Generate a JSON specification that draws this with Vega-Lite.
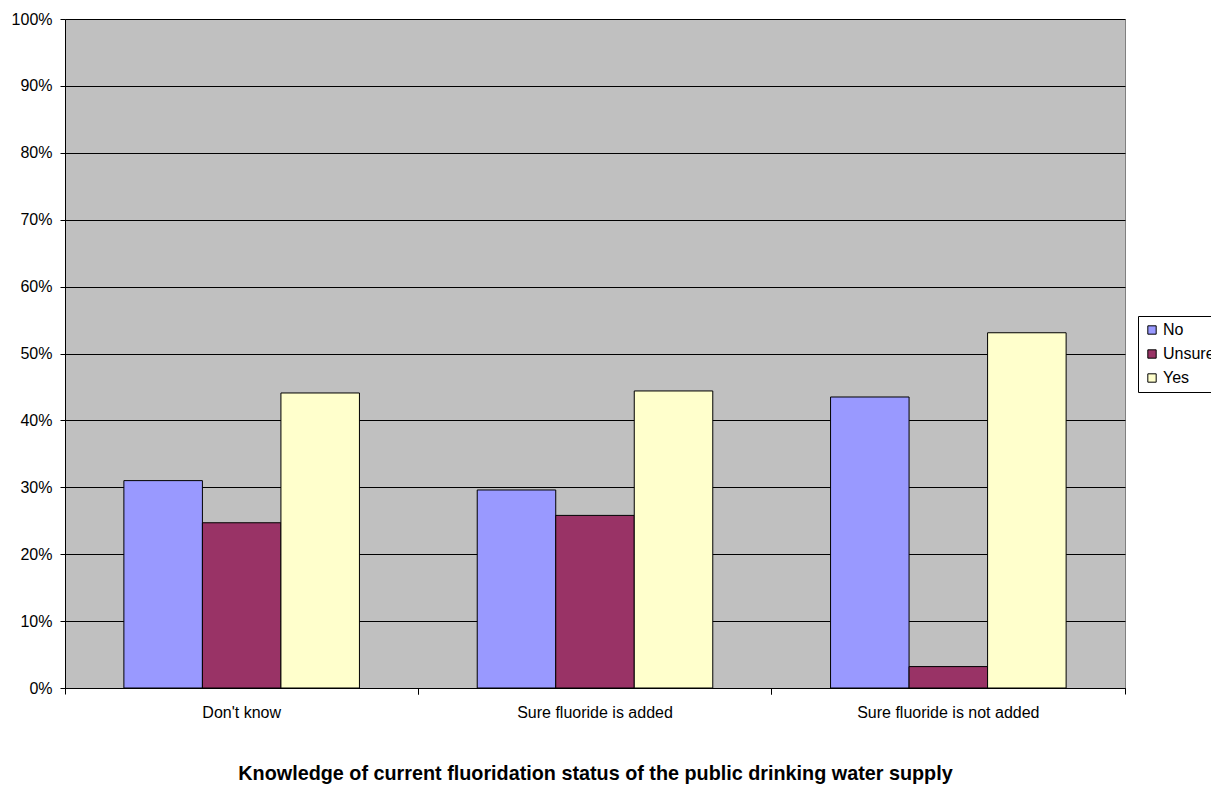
{
  "$schema": "https://vega.github.io/schema/vega-lite/v6.json",
  "width": 1060,
  "height": 669,
  "autosize": {"type": "none"},
  "padding": {"left": 65, "top": 19, "right": 86, "bottom": 99},
  "background": "white",
  "config": {
    "font": "Liberation Sans",
    "view": {"fill": "#C0C0C0", "stroke": "#808080", "strokeWidth": 1},
    "axis": {"labelFont": "Liberation Sans", "titleFont": "Liberation Sans", "labelColor": "black", "titleColor": "black", "domainColor": "black", "tickColor": "black"}
  },
  "data": {
    "values": [
      {"status": "Don't know", "answer": "No", "pct": 0.310},
      {"status": "Don't know", "answer": "Unsure", "pct": 0.247},
      {"status": "Don't know", "answer": "Yes", "pct": 0.441},
      {"status": "Sure fluoride is added", "answer": "No", "pct": 0.296},
      {"status": "Sure fluoride is added", "answer": "Unsure", "pct": 0.258},
      {"status": "Sure fluoride is added", "answer": "Yes", "pct": 0.444},
      {"status": "Sure fluoride is not added", "answer": "No", "pct": 0.435},
      {"status": "Sure fluoride is not added", "answer": "Unsure", "pct": 0.032},
      {"status": "Sure fluoride is not added", "answer": "Yes", "pct": 0.531}
    ]
  },
  "resolve": {"axis": {"x": "independent"}},
  "layer": [
    {
      "mark": {"type": "bar", "stroke": "black", "strokeWidth": 1},
      "encoding": {
        "x": {
          "field": "status", "type": "nominal",
          "sort": ["Don't know", "Sure fluoride is added", "Sure fluoride is not added"],
          "scale": {"paddingInner": 0, "paddingOuter": 0},
          "axis": {
            "orient": "bottom",
            "title": "Knowledge of current fluoridation status of the public drinking water supply",
            "titleFontSize": 19.8, "titleFontWeight": "bold", "titlePadding": 43,
            "labelFontSize": 16, "labelAngle": 0, "labelPadding": 16, "labelLimit": 500,
            "ticks": false, "domain": true, "domainColor": "black", "grid": false
          }
        },
        "xOffset": {
          "field": "answer", "type": "nominal",
          "sort": ["No", "Unsure", "Yes"],
          "scale": {"paddingInner": 0, "paddingOuter": 0.75}
        },
        "y": {
          "field": "pct", "type": "quantitative",
          "scale": {"domain": [0, 1], "nice": false},
          "axis": {
            "title": null, "format": ".0%",
            "values": [0, 0.1, 0.2, 0.3, 0.4, 0.5, 0.6, 0.7, 0.8, 0.9, 1],
            "labelFontSize": 16, "labelPadding": 8, "tickSize": 5,
            "grid": true, "gridColor": "black", "gridWidth": 1, "gridOpacity": 1,
            "domainColor": "black"
          }
        },
        "color": {
          "field": "answer", "type": "nominal",
          "sort": ["No", "Unsure", "Yes"],
          "scale": {"domain": ["No", "Unsure", "Yes"], "range": ["#9999FF", "#993366", "#FFFFCC"]},
          "legend": {
            "title": null, "orient": "none", "legendX": 1073, "legendY": 297,
            "strokeColor": "black", "fillColor": "white", "padding": 6,
            "symbolType": "square", "symbolSize": 70, "symbolStrokeColor": "black", "symbolStrokeWidth": 1,
            "symbolOpacity": 1,
            "labelFontSize": 16, "labelFont": "Liberation Sans", "labelColor": "black", "labelOffset": 3,
            "rowPadding": 8, "labelLimit": 300
          }
        }
      }
    },
    {
      "mark": {"type": "bar", "opacity": 0},
      "encoding": {
        "x": {
          "field": "status", "type": "nominal",
          "sort": ["Don't know", "Sure fluoride is added", "Sure fluoride is not added"],
          "axis": {"orient": "bottom", "bandPosition": 0, "labels": false, "title": null, "domain": false, "ticks": true, "tickSize": 6, "grid": false}
        },
        "y": {"field": "pct", "type": "quantitative"}
      }
    },
    {
      "mark": {"type": "bar", "opacity": 0},
      "encoding": {
        "x": {
          "field": "status", "type": "nominal",
          "sort": ["Don't know", "Sure fluoride is added", "Sure fluoride is not added"],
          "axis": {"orient": "bottom", "bandPosition": 1, "labels": false, "title": null, "domain": false, "ticks": true, "tickSize": 6, "grid": false}
        },
        "y": {"field": "pct", "type": "quantitative"}
      }
    }
  ]
}
